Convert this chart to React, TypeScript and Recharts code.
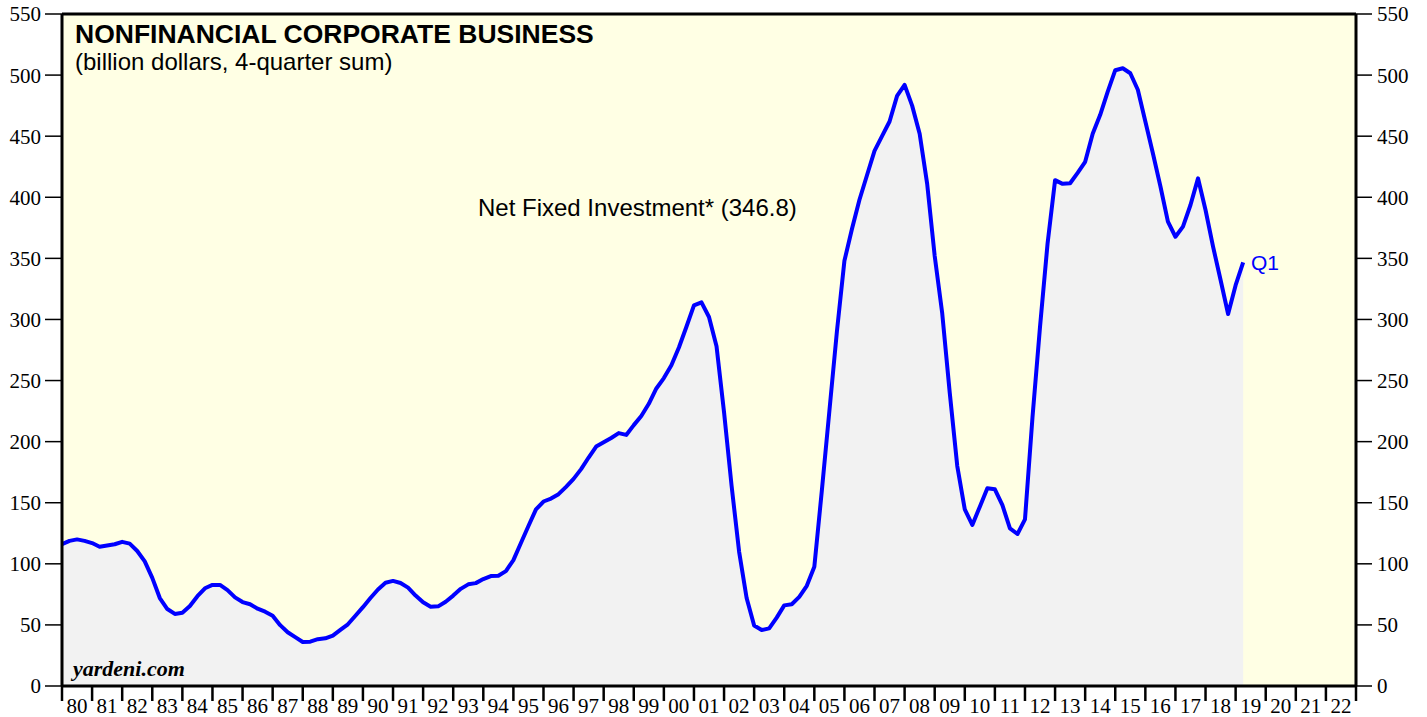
import React from 'react';
import { ComposedChart, Area, XAxis, YAxis, CartesianGrid, ReferenceLine } from 'recharts';

// Quarterly net fixed investment, billion dollars (4-quarter sum), first point at 1980.0
const values1980s = [
  116, 118.8, 120, 118.8, 117, 114, 115, 116, 118, 116.5, 110.5, 102,
  88.5, 72, 63, 59, 60, 65.5, 73.5, 80, 82.7, 82.7, 78.5, 72.5,
  68.7, 66.9, 63.3, 60.8, 57.5, 49.8, 44, 40, 36, 36.3, 38.3, 39,
  41.3, 46, 50.5, 57.5,
];
const values1990s = [
  64.5, 72, 79, 84.5, 86, 84.3, 80.5, 74, 68.5, 64.9, 65.2, 69,
  74, 79.5, 83.2, 84.2, 87.5, 90, 90.3, 94, 103, 117, 131, 144.5,
  151, 153.4, 157, 163, 169.5, 177.5, 187, 196, 199.5, 203, 207, 205.5,
  213.5, 221, 231, 243.5,
];
const values2000s = [
  252, 262.5, 277, 294, 311.5, 314, 302, 278, 224, 164, 110, 72,
  49.5, 45.8, 47.2, 56, 66, 66.9, 73, 82, 97.6, 160, 225, 290,
  348, 374, 398, 418, 438, 450, 462, 483, 492, 475, 452, 411,
  352, 305, 240, 180,
];
const values2010s = [
  144.6, 131.8, 146.8, 161.8, 161, 148, 129, 124.4, 136.4, 220, 294, 362,
  414, 411, 411.5, 420, 429, 452, 467.5, 486.5, 504, 505.6, 501.5, 488,
  462, 436, 409, 380, 367.7, 376, 393.7, 415.5, 389.6, 359.6, 332.3, 304.5,
  328, 346.8,
];

const yearTicks = [
  1980, 1981, 1982, 1983, 1984, 1985, 1986, 1987, 1988, 1989,
  1990, 1991, 1992, 1993, 1994, 1995, 1996, 1997, 1998, 1999,
  2000, 2001, 2002, 2003, 2004, 2005, 2006, 2007, 2008, 2009,
  2010, 2011, 2012, 2013, 2014, 2015, 2016, 2017, 2018, 2019,
  2020, 2021, 2022, 2023,
];
const yearLabels = [
  '80', '81', '82', '83', '84', '85', '86', '87', '88', '89',
  '90', '91', '92', '93', '94', '95', '96', '97', '98', '99',
  '00', '01', '02', '03', '04', '05', '06', '07', '08', '09',
  '10', '11', '12', '13', '14', '15', '16', '17', '18', '19',
  '20', '21', '22', '',
];
const yTicks = [0, 50, 100, 150, 200, 250, 300, 350, 400, 450, 500, 550];

const allValues = [...values1980s, ...values1990s, ...values2000s, ...values2010s];
const data = allValues.map((v, i) => ({ t: 1980 + i * 0.25, v }));

const SERIF = '"Liberation Serif", "Times New Roman", serif';
const SANS = '"Liberation Sans", Arial, sans-serif';

const XTick = (props: any) => {
  const { x, y, payload } = props;
  const idx = yearTicks.indexOf(payload.value);
  const label = idx >= 0 ? yearLabels[idx] : '';
  return (
    <g>
      <line x1={x} y1={y} x2={x} y2={y + 15} stroke="#000" strokeWidth={2.5} />
      {label && (
        <text x={x + 15} y={y + 27} textAnchor="middle" fontFamily={SERIF} fontSize={21} fill="#000">
          {label}
        </text>
      )}
    </g>
  );
};

export default function App() {
  return (
    <div style={{ position: 'absolute', left: 0, top: 0, width: 1427, height: 717, background: '#fff' }}>
      <ComposedChart
        width={1427}
        height={717}
        data={data}
        margin={{ top: 14, right: 0, bottom: 0, left: 0 }}
      >
        <CartesianGrid horizontal={false} vertical={false} fill="#FFFFE4" fillOpacity={1} />
        <XAxis
          dataKey="t"
          type="number"
          domain={[1980, 2023]}
          ticks={yearTicks}
          allowDataOverflow
          height={31}
          tickSize={0}
          tickMargin={0}
          tickLine={false}
          tick={<XTick />}
          interval={0}
          axisLine={{ stroke: '#000', strokeWidth: 3 }}
        />
        <YAxis
          yAxisId="left"
          orientation="left"
          width={62}
          domain={[0, 550]}
          ticks={yTicks}
          interval={0}
          allowDataOverflow
          tickSize={17}
          tickMargin={4}
          tickLine={{ stroke: '#000', strokeWidth: 1.5 }}
          axisLine={{ stroke: '#000', strokeWidth: 3 }}
          tick={{ fill: '#000', fontSize: 21, fontFamily: SERIF }}
        />
        <YAxis
          yAxisId="right"
          orientation="right"
          width={71}
          domain={[0, 550]}
          ticks={yTicks}
          interval={0}
          allowDataOverflow
          tickSize={16}
          tickMargin={5}
          tickLine={{ stroke: '#000', strokeWidth: 1.5 }}
          axisLine={{ stroke: '#000', strokeWidth: 3 }}
          tick={{ fill: '#000', fontSize: 21, fontFamily: SERIF }}
        />
        <Area
          yAxisId="left"
          type="linear"
          dataKey="v"
          stroke="#0000FF"
          strokeWidth={4}
          strokeLinejoin="round"
          fill="#F2F2F2"
          fillOpacity={1}
          dot={false}
          activeDot={false}
          isAnimationActive={false}
        />
        <ReferenceLine yAxisId="left" y={550} stroke="#000" strokeWidth={3} ifOverflow="visible" />
      </ComposedChart>
      <svg
        width={1427}
        height={717}
        style={{ position: 'absolute', left: 0, top: 0, pointerEvents: 'none' }}
      >
        <text x={75} y={43} fontFamily={SANS} fontWeight="bold" fontSize={26.5} fill="#000">
          NONFINANCIAL CORPORATE BUSINESS
        </text>
        <text x={75} y={70} fontFamily={SANS} fontSize={24} fill="#000">
          (billion dollars, 4-quarter sum)
        </text>
        <text x={478} y={216} fontFamily={SANS} fontSize={24} fill="#000">
          Net Fixed Investment* (346.8)
        </text>
        <text x={1251} y={270} fontFamily={SANS} fontSize={21} fill="#0000FF">
          Q1
        </text>
        <text x={73} y={676} fontFamily={SERIF} fontWeight="bold" fontStyle="italic" fontSize={22} fill="#000">
          yardeni.com
        </text>
      </svg>
    </div>
  );
}
